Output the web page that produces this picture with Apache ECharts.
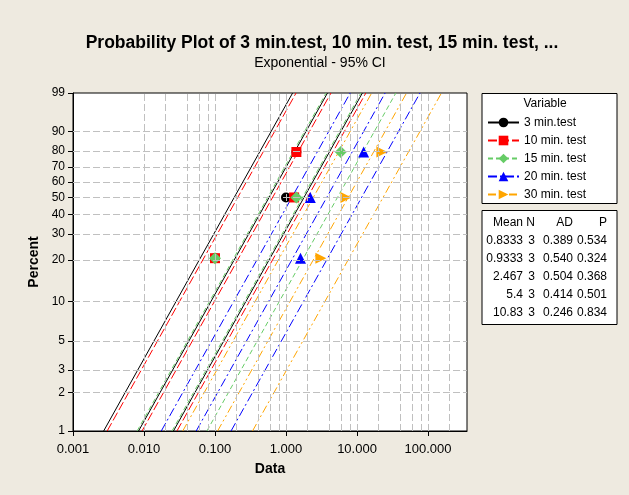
<!DOCTYPE html>
<html>
<head>
<meta charset="utf-8">
<script src="https://cdn.jsdelivr.net/npm/echarts@6/dist/echarts.min.js"></script>
<style>
  html, body { margin: 0; padding: 0; background: #EEEAE0; }
  #probplot { width: 629px; height: 495px; }
</style>
</head>
<body>
<div id="probplot"></div>
<script>
// variables in the plot
var names = ['3 min.test', '10 min. test', '15 min. test', '20 min. test', '30 min. test'];

// observed values, plotted at the median-rank percents
var ranks = [20.59, 50, 79.41];
var obs3 = [0.1, 1.0, 1.4];
var obs10 = [0.1, 1.3, 1.4];
var obs15 = [0.1, 1.4, 5.9];
var obs20 = [1.6, 2.2, 12.4];
var obs30 = [3.1, 7.0, 22.4];

// fitted line and 95% CI bands: Data value where each line crosses 1% and 99%
var fitAt1 = [0.00838, 0.00938, 0.0248, 0.0543, 0.1088];
var fitAt99 = [3.837, 4.298, 11.36, 24.87, 49.87];
var loAt1 = [0.00270, 0.00303, 0.00800, 0.01751, 0.03511];
var loAt99 = [1.238, 1.386, 3.665, 8.02, 16.09];
var hiAt1 = [0.0260, 0.0291, 0.0769, 0.1682, 0.3374];
var hiAt99 = [11.90, 13.32, 35.22, 77.09, 154.6];

// summary table
var means = ['0.8333', '0.9333', '2.467', '5.4', '10.83'];
var nObs = ['3', '3', '3', '3', '3'];
var adStat = ['0.389', '0.540', '0.504', '0.414', '0.246'];
var pVals = ['0.534', '0.324', '0.368', '0.501', '0.834'];

// axis ticks
var pctTicks = [1, 2, 3, 5, 10, 20, 30, 40, 50, 60, 70, 80, 90, 99];
var gridMult = [2, 4, 6, 8, 10];
var gridDecades = [0.001, 0.01, 0.1, 1, 10, 100];

var obsAll = [obs3, obs10, obs15, obs20, obs30];
var colors = ['#000000', '#ff0000', '#66cc66', '#0000ff', '#ffa500'];
var dashes = ['solid', [9, 3], [5, 3], [9, 3, 2, 3], [8, 3, 2, 3, 2, 3]];
var symbols = ['circle', 'rect', 'diamond', 'triangle', 'triangle'];
var symRot = [0, 0, 0, 0, -90];
var symSize = [10, 10, 12, 11, 11];
var FONT = '"Liberation Sans", Arial, sans-serif';

// exponential probability scale (Weibull paper)
function tp(pct) {
  return Math.log(-Math.log(1 - pct / 100));
}
var yTickVals = pctTicks.map(tp);
var yMin = tp(1), yMax = tp(99);

var xMax = 354;
var xGridLines = [];
gridDecades.forEach(function (d) {
  gridMult.forEach(function (m) {
    var v = +(d * m).toPrecision(3);
    if (v < xMax) xGridLines.push({ xAxis: v });
  });
});
var yGridLines = pctTicks.slice(1, -1).map(function (p) { return { yAxis: tp(p) }; });

var series = [{
  name: 'grid',
  type: 'line',
  data: [],
  z: 1,
  silent: true,
  markLine: {
    silent: true,
    symbol: ['none', 'none'],
    label: { show: false },
    lineStyle: { color: '#c0c0c0', type: [7, 3], width: 1 },
    emphasis: { disabled: true },
    data: xGridLines.concat(yGridLines)
  }
}];

names.forEach(function (nm, i) {
  var lines = [
    { name: nm + ' lower', a: loAt1[i], b: loAt99[i] },
    { name: nm, a: fitAt1[i], b: fitAt99[i] },
    { name: nm + ' upper', a: hiAt1[i], b: hiAt99[i] }
  ];
  lines.forEach(function (ln) {
    series.push({
      name: ln.name,
      type: 'line',
      z: 2,
      data: [[ln.a, yMin], [ln.b, yMax]],
      showSymbol: false,
      symbol: symbols[i],
      symbolRotate: symRot[i],
      color: colors[i],
      lineStyle: { color: colors[i], width: 1, type: dashes[i] },
      silent: true
    });
  });
});

names.forEach(function (nm, i) {
  series.push({
    name: nm + ' pts',
    type: 'scatter',
    z: 3,
    symbol: symbols[i],
    symbolRotate: symRot[i],
    symbolSize: symSize[i],
    itemStyle: { color: colors[i], opacity: 1 },
    data: obsAll[i].map(function (v, k) { return [v, tp(ranks[k])]; })
  });
});

// table text
var colRight = [523, 535, 573, 607];
var tableCols = [means, nObs, adStat, pVals];
var headers = ['Mean', 'N', 'AD', 'P'];
var graphics = [
  { type: 'rect', shape: { x: 482, y: 93.5, width: 135, height: 110 },
    style: { fill: '#fff', stroke: '#000', lineWidth: 1 }, z: 0 },
  { type: 'rect', shape: { x: 482, y: 210.5, width: 135, height: 114 },
    style: { fill: '#fff', stroke: '#000', lineWidth: 1 }, z: 0 },
  { type: 'text', x: 545, y: 104, z: 5,
    style: { text: 'Variable', fill: '#000', font: '12px ' + FONT, textAlign: 'center', textVerticalAlign: 'middle' } }
];
headers.forEach(function (h, c) {
  graphics.push({ type: 'text', x: colRight[c], y: 223, z: 5,
    style: { text: h, fill: '#000', font: '12px ' + FONT, textAlign: 'right', textVerticalAlign: 'middle' } });
  tableCols[c].forEach(function (val, r) {
    graphics.push({ type: 'text', x: colRight[c], y: 241 + r * 17.9, z: 5,
      style: { text: val, fill: '#000', font: '12px ' + FONT, textAlign: 'right', textVerticalAlign: 'middle' } });
  });
});

var myChart = echarts.init(document.getElementById('probplot'));
myChart.setOption({
  backgroundColor: '#EEEAE0',
  animation: false,
  title: [{
    text: 'Probability Plot of 3 min.test, 10 min. test, 15 min. test, ...',
    left: 317, top: 29, textAlign: 'center',
    textStyle: { fontFamily: FONT, fontSize: 17.5, fontWeight: 'bold', color: '#000' }
  }, {
    text: 'Exponential - 95% CI',
    left: 315, top: 51, textAlign: 'center',
    textStyle: { fontFamily: FONT, fontSize: 14, fontWeight: 'normal', color: '#000' }
  }],
  grid: {
    left: 73, top: 93, width: 394, height: 338,
    show: true, backgroundColor: '#fff', borderColor: '#000', borderWidth: 1
  },
  legend: {
    orient: 'vertical',
    left: 487, top: 116.5,
    padding: 0,
    itemWidth: 31, itemHeight: 12, itemGap: 6,
    data: names,
    textStyle: { fontFamily: FONT, fontSize: 12, color: '#000' },
    selectedMode: false
  },
  xAxis: {
    type: 'log',
    logBase: 10,
    min: 0.001,
    max: xMax,
    name: 'Data',
    nameLocation: 'middle',
    nameGap: 31,
    nameTextStyle: { fontFamily: FONT, fontSize: 14, fontWeight: 'bold', color: '#000' },
    axisLine: { onZero: false, lineStyle: { color: '#000' } },
    axisTick: { length: 5, lineStyle: { color: '#000' } },
    axisLabel: {
      fontFamily: FONT, fontSize: 13, color: '#000', margin: 12,
      showMaxLabel: false,
      formatter: function (v) { return v.toFixed(3); }
    },
    splitLine: { show: false }
  },
  yAxis: {
    type: 'value',
    min: yMin,
    max: yMax,
    name: 'Percent',
    nameLocation: 'middle',
    nameGap: 27,
    nameTextStyle: { fontFamily: FONT, fontSize: 14, fontWeight: 'bold', color: '#000' },
    axisLine: { show: true, onZero: false, lineStyle: { color: '#000' } },
    axisTick: { show: true, length: 5, customValues: yTickVals, lineStyle: { color: '#000' } },
    axisLabel: {
      customValues: yTickVals,
      fontFamily: FONT, fontSize: 12, color: '#000', margin: 8,
      formatter: function (v) {
        for (var i = 0; i < yTickVals.length; i++) {
          if (Math.abs(yTickVals[i] - v) < 1e-6) return String(pctTicks[i]);
        }
        return '';
      }
    },
    splitLine: { show: false }
  },
  graphic: graphics,
  series: series
});
</script>
</body>
</html>
